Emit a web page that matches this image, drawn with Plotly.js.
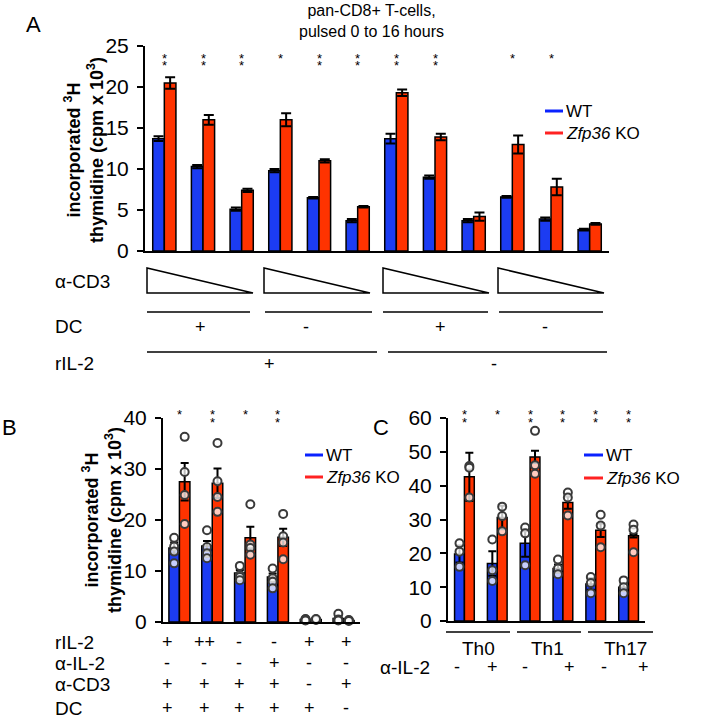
<!DOCTYPE html>
<html>
<head>
<meta charset="utf-8">
<script src="https://cdn.plot.ly/plotly-3.0.1.min.js"></script>
<style>body{margin:0;background:#fff}</style>
</head>
<body>
<div id="fig" style="width:726px;height:723px"></div>
<script>
// ---- panel A : pan-CD8+ T-cells, pulsed 0 to 16 hours
var aCats = ['DC+ IL2+ hi','DC+ IL2+ mid','DC+ IL2+ lo','DC- IL2+ hi','DC- IL2+ mid','DC- IL2+ lo',
             'DC+ IL2- hi','DC+ IL2- mid','DC+ IL2- lo','DC- IL2- hi','DC- IL2- mid','DC- IL2- lo'];
var aWT    = [13.7, 10.3, 5.1, 9.8, 6.5, 3.7, 13.7, 9.0, 3.7, 6.6, 3.9, 2.6];
var aWTerr = [0.3, 0.2, 0.2, 0.2, 0.1, 0.2, 0.6, 0.2, 0.2, 0.1, 0.2, 0.1];
var aKO    = [20.5, 16.0, 7.4, 16.0, 11.0, 5.4, 19.3, 13.9, 4.2, 13.0, 7.8, 3.3];
var aKOerr = [0.7, 0.6, 0.2, 0.8, 0.2, 0.1, 0.4, 0.4, 0.5, 1.1, 1.0, 0.1];
var aStars = [2, 2, 2, 1, 2, 2, 2, 2, 0, 1, 1, 0];

// ---- panel B
var bCats = ['IL2+','IL2++','none','aIL2','no CD3','no DC'];
var bWT    = [14.5, 14.9, 9.6, 8.8, 0.5, 0.7];
var bWTerr = [1.1, 1.0, 0.6, 0.7, 0.1, 0.3];
var bKO    = [27.5, 27.2, 16.5, 16.6, 0.5, 0.3];
var bKOerr = [3.7, 2.9, 2.2, 1.7, 0.1, 0.1];
var bWTpts = [[16.5,14.8,13.8,11.5],[18.0,14.7,13.5,12.5],[11.0,9.2,8.8,8.2],[10.5,8.6,7.9,6.6],[0.4,0.6,0.5,0.3],[1.6,0.5,0.4,0.3]];
var bKOpts = [[36.3,29.4,24.9,19.2],[35.1,27.6,24.5,21.6],[23.1,15.2,14.5,13.2],[21.2,16.8,15.6,12.3],[0.5,0.4,0.6],[0.4,0.3,0.2]];
var bStars = [1, 2, 1, 2, 0, 0];
var bRows = ['rIL-2', '\u03b1-IL-2', '\u03b1-CD3', 'DC'];
var bSigns = [['+','++','-','-','+','+'],
              ['-','-','-','+','-','-'],
              ['+','+','+','+','-','+'],
              ['+','+','+','+','+','-']];

// ---- panel C
var cCats = ['Th0 -','Th0 +','Th1 -','Th1 +','Th17 -','Th17 +'];
var cWT    = [19.8, 17.0, 23.0, 15.5, 10.9, 10.0];
var cWTerr = [2.5, 3.6, 4.0, 1.2, 1.7, 1.0];
var cKO    = [42.6, 30.6, 48.5, 35.0, 26.8, 25.2];
var cKOerr = [7.1, 3.5, 1.8, 1.8, 2.0, 0.5];
var cWTpts = [[23.0,20.5,16.0],[24.1,15.0,11.8],[27.6,25.9,16.5],[18.2,15.5,13.8],[13.0,11.2,8.2],[12.0,10.0,8.2]];
var cKOpts = [[45.8,45.3,36.5],[33.8,31.0,26.5],[56.2,46.0,43.5],[38.0,36.5,31.2],[31.4,28.2,21.8],[28.5,27.0,20.3]];
var cStars = [2, 1, 2, 2, 2, 2];
var cGroups = ['Th0', 'Th1', 'Th17'];
var cAntiIL2 = ['-','+','-','+','-','+'];

var BLUE = '#1c3cf2', RED = '#ff3300';
var FONT = 'Liberation Sans, Arial, sans-serif';
var W = 726, H = 723;
function px(x) { return x / W; }
function py(y) { return 1 - y / H; }

var data = [], shapes = [], annotations = [];

// starY: pixel rows of the top / second star
function addPanel(cats, wt, wtErr, ko, koErr, wtPts, koPts, stars, starY, w, cap, xa, ya) {
  var idx = cats.map(function(c, i) { return i; });
  data.push({type: 'bar', x: idx, y: wt, width: w, offset: -w, xaxis: xa, yaxis: ya,
    marker: {color: BLUE, line: {color: 'black', width: 1.5}},
    error_y: {type: 'data', array: wtErr, visible: true, color: 'black', thickness: 2, width: cap}});
  data.push({type: 'bar', x: idx, y: ko, width: w, offset: 0, xaxis: xa, yaxis: ya,
    marker: {color: RED, line: {color: 'black', width: 1.5}},
    error_y: {type: 'data', array: koErr, visible: true, color: 'black', thickness: 2, width: cap}});
  if (wtPts) {
    var dx = [], dy = [];
    idx.forEach(function(i) {
      wtPts[i].forEach(function(v) { dx.push(i - w / 2); dy.push(v); });
      koPts[i].forEach(function(v) { dx.push(i + w / 2); dy.push(v); });
    });
    data.push({type: 'scatter', mode: 'markers', x: dx, y: dy, xaxis: xa, yaxis: ya, cliponaxis: false,
      marker: {symbol: 'circle', size: 8, color: 'rgba(255,255,255,0.75)', line: {color: '#3a3a3a', width: 2}}});
  }
  idx.forEach(function(i) {
    for (var k = 0; k < stars[i]; k++) {
      annotations.push({text: '*', x: i, y: py(starY[k]), xref: xa, yref: 'paper', showarrow: false,
        xanchor: 'center', yanchor: 'middle', font: {size: 13, color: '#000', family: FONT}});
    }
  });
}

addPanel(aCats, aWT, aWTerr, aKO, aKOerr, null, null, aStars, [58, 65], 0.3, 5, 'x', 'y');
addPanel(bCats, bWT, bWTerr, bKO, bKOerr, bWTpts, bKOpts, bStars, [415, 422], 0.32, 4, 'x2', 'y2');
addPanel(cCats, cWT, cWTerr, cKO, cKOerr, cWTpts, cKOpts, cStars, [415, 422], 0.3, 4, 'x3', 'y3');

function xax(d0, d1, n, anchor) {
  return {domain: [px(d0), px(d1)], range: [-0.5, n - 0.5], anchor: anchor, showline: true, linewidth: 2,
    linecolor: 'black', ticks: '', showticklabels: false, showgrid: false, zeroline: false, fixedrange: true};
}
function yax(y0, y1, top, dtick, anchor) {
  return {domain: [py(y0), py(y1)], range: [0, top], anchor: anchor, showline: true, linewidth: 2,
    linecolor: 'black', ticks: 'outside', ticklen: 6, tickwidth: 2, tickcolor: 'black', dtick: dtick,
    ticklabelstandoff: 4, tickfont: {size: 21, color: 'black', family: FONT},
    showgrid: false, zeroline: false, fixedrange: true};
}

function line(x0, y0, x1, y1, wd) {
  shapes.push({type: 'line', xref: 'paper', yref: 'paper', x0: px(x0), y0: py(y0), x1: px(x1), y1: py(y1),
    line: {color: 'black', width: wd || 1.5}});
}
function txt(s, x, y, size, opts) {
  var a = {text: s, xref: 'paper', yref: 'paper', x: px(x), y: py(y), showarrow: false,
    xanchor: 'center', yanchor: 'middle', font: {size: size, color: 'black', family: FONT}};
  for (var k in opts) a[k] = opts[k];
  annotations.push(a);
}

// panel letters and title
txt('A', 33, 25, 22);
txt('B', 9, 427, 22);
txt('C', 381, 427, 22);
txt('pan-CD8+ T-cells,<br>pulsed 0 to 16 hours', 371, 21, 16);

// y titles
txt('<b>incorporated <sup>3</sup>H<br>thymidine (cpm x 10<sup>3</sup>)</b>', 84, 150, 18, {textangle: -90});
txt('<b>incorporated <sup>3</sup>H<br>thymidine (cpm x 10<sup>3</sup>)</b>', 102, 520, 18, {textangle: -90});

// legends
[[545, 563, 111, 133], [305, 323, 455, 477], [584, 603, 455, 478]].forEach(function(p) {
  shapes.push({type: 'line', xref: 'paper', yref: 'paper', x0: px(p[0]), x1: px(p[1]), y0: py(p[2]), y1: py(p[2]),
    line: {color: '#0a22ff', width: 3}});
  shapes.push({type: 'line', xref: 'paper', yref: 'paper', x0: px(p[0]), x1: px(p[1]), y0: py(p[3]), y1: py(p[3]),
    line: {color: '#ff2222', width: 3}});
  txt('WT', p[1] + 1, p[2], 17, {xanchor: 'left'});
  txt('<i>Zfp36</i> KO', p[1] + 1, p[3], 17, {xanchor: 'left'});
});

// panel A condition rows
txt('\u03b1-CD3', 53, 282, 19, {xanchor: 'left'});
txt('DC', 53, 327, 19, {xanchor: 'left'});
txt('rIL-2', 53, 363, 19, {xanchor: 'left'});
[[147, 253], [264, 370], [383, 489], [498, 604]].forEach(function(t) {
  shapes.push({type: 'path', xref: 'paper', yref: 'paper',
    path: 'M' + px(t[0]) + ',' + py(268) + ' L' + px(t[0]) + ',' + py(293) + ' L' + px(t[1]) + ',' + py(293) + ' Z',
    line: {color: 'black', width: 1.5}});
});
[[147, 250], [265, 372], [383, 488], [499, 603]].forEach(function(s) { line(s[0], 312, s[1], 312); });
['+', '-', '+', '-'].forEach(function(s, i) { txt(s, [200, 306, 440, 545][i], 327, 18); });
line(147, 352, 377, 352); line(388, 352, 607, 352);
txt('+', 269, 364, 18); txt('-', 494, 364, 18);

// panel B condition rows
var bRowY = [642, 663, 684, 708], bColX = [167, 204, 239, 274, 309, 346];
bRows.forEach(function(r, j) {
  txt(r, 53, bRowY[j], 19, {xanchor: 'left'});
  bSigns[j].forEach(function(s, i) { txt(s, bColX[i], bRowY[j], 18); });
});

// panel C condition rows
[[446, 510], [517, 581], [588, 653]].forEach(function(s) { line(s[0], 632, s[1], 632); });
cGroups.forEach(function(g, i) { txt(g, [478, 547, 625][i], 648, 19); });
txt('\u03b1-IL-2', 378, 667, 19, {xanchor: 'left'});
cAntiIL2.forEach(function(s, i) { txt(s, [457, 492, 525, 569, 604, 643][i], 667, 18); });

var layout = {
  width: W, height: H, margin: {l: 0, r: 0, t: 0, b: 0},
  paper_bgcolor: 'white', plot_bgcolor: 'white', showlegend: false,
  font: {family: FONT, color: 'black'},
  xaxis: xax(145, 609, aCats.length, 'y'),
  yaxis: yax(251, 46, 25, 5, 'x'),
  xaxis2: xax(163, 360, bCats.length, 'y2'),
  yaxis2: yax(622, 418, 40, 10, 'x2'),
  xaxis3: xax(448, 645, cCats.length, 'y3'),
  yaxis3: yax(621, 418, 60, 10, 'x3'),
  shapes: shapes, annotations: annotations
};
Plotly.newPlot('fig', data, layout, {staticPlot: true});
</script>
</body>
</html>
